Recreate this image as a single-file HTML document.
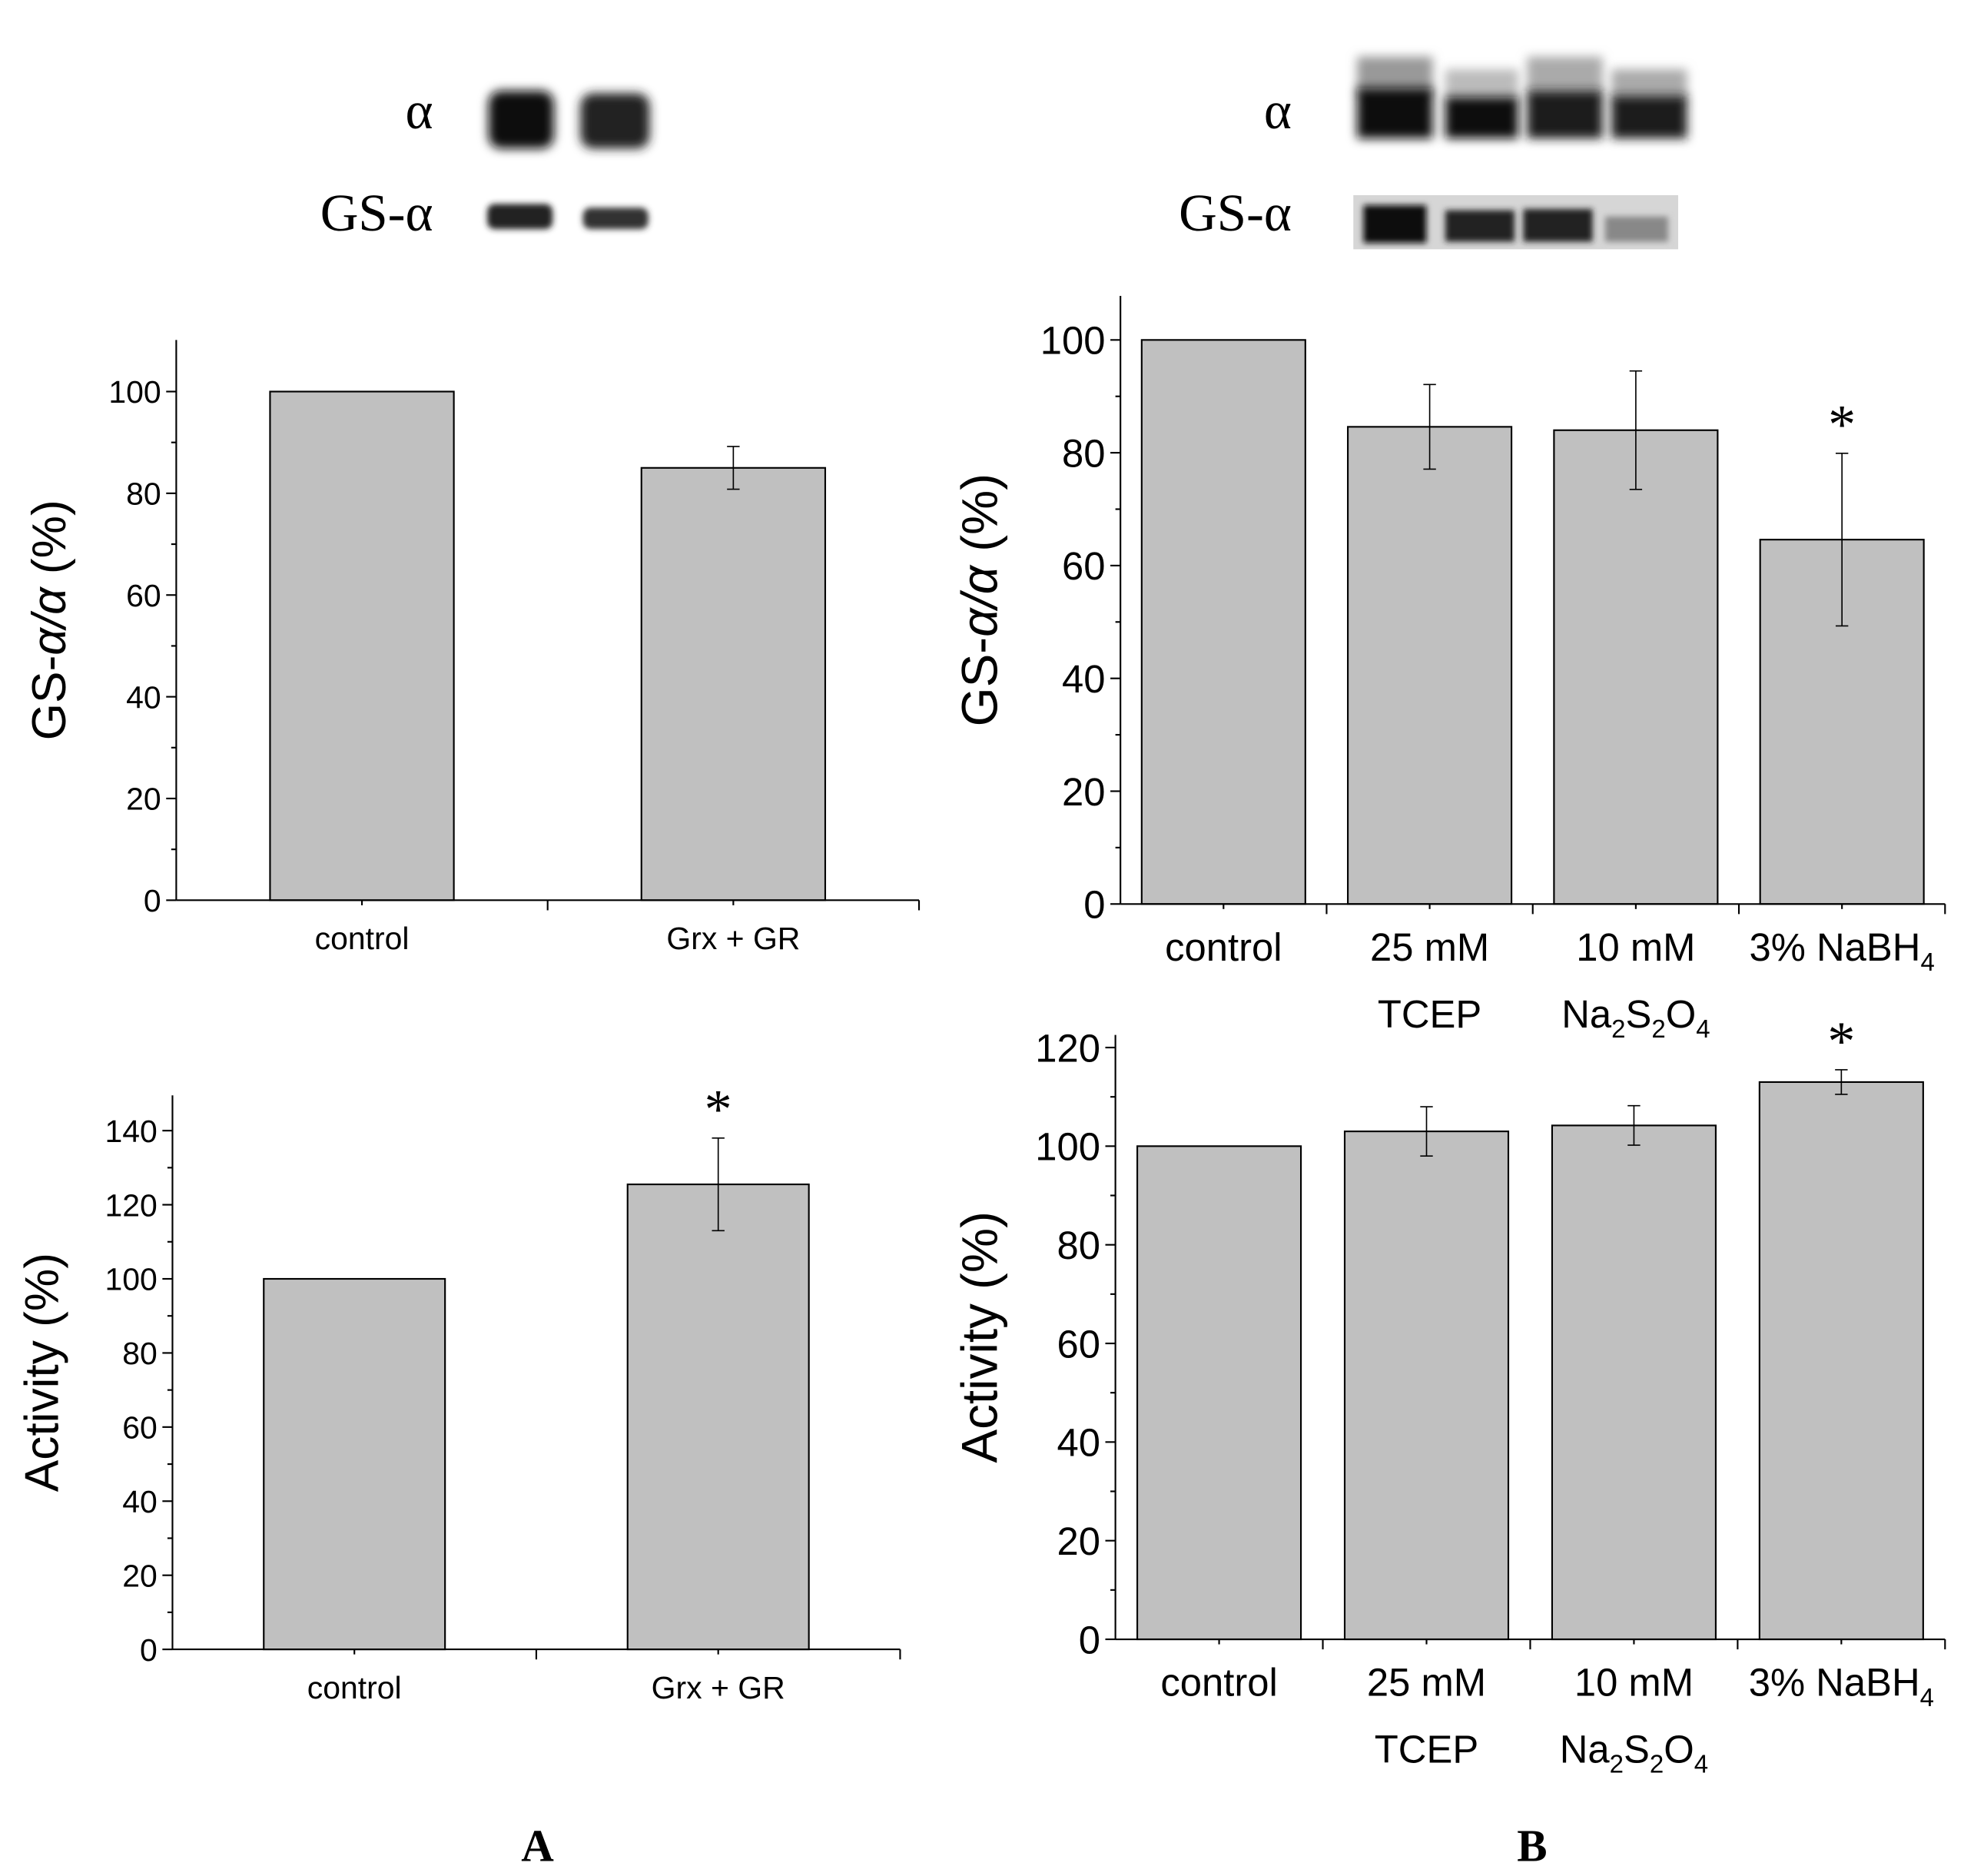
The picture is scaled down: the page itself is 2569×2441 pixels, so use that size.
<!DOCTYPE html>
<html><head><meta charset="utf-8"><style>
html,body{margin:0;padding:0;background:#fff;}
svg{display:block;}
text{font-family:"Liberation Sans",sans-serif;fill:#000;}
.serif{font-family:"Liberation Serif",serif;}
</style></head><body>
<svg id="fig" width="2569" height="2441" viewBox="0 0 1568 1490" preserveAspectRatio="none" xmlns="http://www.w3.org/2000/svg">
<defs>
<filter id="blur" x="-20%" y="-50%" width="140%" height="200%"><feGaussianBlur stdDeviation="4"/></filter>
<filter id="blur2" x="-20%" y="-50%" width="140%" height="200%"><feGaussianBlur stdDeviation="2.5"/></filter>
</defs>
<g>
<text x="344" y="102" class="serif" font-size="42" text-anchor="end">α</text>
<text x="344" y="183" class="serif" font-size="42" text-anchor="end">GS-α</text>
<rect x="388" y="72" width="52" height="46" rx="10" fill="#111" filter="url(#blur)"/>
<rect x="461" y="74" width="55" height="44" rx="10" fill="#222" filter="url(#blur)"/>
<rect x="387" y="162" width="52" height="20" rx="6" fill="#222" filter="url(#blur2)"/>
<rect x="463" y="165" width="52" height="17" rx="6" fill="#333" filter="url(#blur2)"/>
</g>
<g>
<text x="1026" y="102" class="serif" font-size="42" text-anchor="end">α</text>
<text x="1026" y="183" class="serif" font-size="42" text-anchor="end">GS-α</text>
<rect x="1078" y="45" width="60" height="30" fill="#999" filter="url(#blur)"/>
<rect x="1078" y="70" width="60" height="40" fill="#111" filter="url(#blur)"/>
<rect x="1148" y="55" width="58" height="25" fill="#bbb" filter="url(#blur)"/>
<rect x="1148" y="77" width="58" height="33" fill="#0a0a0a" filter="url(#blur)"/>
<rect x="1213" y="45" width="60" height="30" fill="#aaa" filter="url(#blur)"/>
<rect x="1213" y="72" width="60" height="38" fill="#1a1a1a" filter="url(#blur)"/>
<rect x="1280" y="55" width="60" height="25" fill="#aaa" filter="url(#blur)"/>
<rect x="1280" y="76" width="60" height="34" fill="#1a1a1a" filter="url(#blur)"/>
<rect x="1075" y="155" width="258" height="43" fill="#d6d6d6"/>
<rect x="1083" y="163" width="50" height="30" fill="#0a0a0a" filter="url(#blur2)"/>
<rect x="1148" y="167" width="55" height="25" fill="#222" filter="url(#blur2)"/>
<rect x="1210" y="166" width="55" height="26" fill="#222" filter="url(#blur2)"/>
<rect x="1275" y="172" width="50" height="20" fill="#888" filter="url(#blur2)"/>
</g>
<g id="charts"></g>
<text x="427" y="1478" class="serif" font-size="36" font-weight="bold" text-anchor="middle">A</text>
<text x="1217" y="1478" class="serif" font-size="36" font-weight="bold" text-anchor="middle">B</text>
</svg>
<script>
const catsA = ["control","Grx + GR"];
const gsA = [100, 85];
const gsAErr = [0, 4.2];
const actA = [100, 125.5];
const actAErr = [0, 12.5];
const catsB1 = ["control","25 mM","10 mM","3% NaBH"];
const catsB2 = ["","TCEP","Na2S2O4",""];
const gsB = [100, 84.6, 84, 64.6];
const gsBErr = [0, 7.5, 10.5, 15.3];
const actB = [100, 103, 104.2, 113];
const actBErr = [0, 5, 4, 2.5];
const ticksGsA = [0,20,40,60,80,100];
const ticksActA = [0,20,40,60,80,100,120,140];
const ticksGsB = [0,20,40,60,80,100];
const ticksActB = [0,20,40,60,80,100,120];

const NS="http://www.w3.org/2000/svg";
const root=document.getElementById('charts');
function mk(tag,attrs,parent,txt){const e=document.createElementNS(NS,tag);for(const k in attrs)e.setAttribute(k,attrs[k]);if(txt!==undefined)e.textContent=txt;(parent||root).appendChild(e);return e;}

function chart(o){
  const g=mk('g',{});
  
  
  const y=v=>o.y0-(v/o.ymax)*(o.y0-o.yTopVal);
  const n=o.vals.length, band=(o.xEnd-o.x0)/n;
  const xc=i=>o.x0+band*(i+0.5);
  o.vals.forEach((v,i)=>{
    const r=mk('rect',{x:xc(i)-o.bw/2,y:y(v),width:o.bw,height:o.y0-y(v),fill:'#c0c0c0',stroke:'#000','stroke-width':1.3},g);
    
    
    const e=o.err[i];
    if(e>0){
      const eb=mk('g',{stroke:'#000','stroke-width':1},g);
      
      
      mk('line',{x1:xc(i),x2:xc(i),y1:y(v+e),y2:y(v-e)},eb);
      mk('line',{x1:xc(i)-5,x2:xc(i)+5,y1:y(v+e),y2:y(v+e)},eb);
      mk('line',{x1:xc(i)-5,x2:xc(i)+5,y1:y(v-e),y2:y(v-e)},eb);
    }
  });
  const ax=mk('g',{stroke:'#000','stroke-width':1.3},g);
  
  
  mk('line',{x1:o.x0,x2:o.x0,y1:o.yAxisTop,y2:o.y0},ax);
  mk('line',{x1:o.x0,x2:o.xEnd,y1:o.y0,y2:o.y0},ax);
  const step=o.ticks[1]-o.ticks[0];
  o.ticks.forEach((t,i)=>{
    mk('line',{x1:o.x0-8,x2:o.x0,y1:y(t),y2:y(t)},ax);
    if(i<o.ticks.length-1) mk('line',{x1:o.x0-4,x2:o.x0,y1:y(t+step/2),y2:y(t+step/2)},ax);
    const tl=mk('text',{x:o.x0-12,y:y(t)+o.fs*0.36,'font-size':o.fs,'text-anchor':'end'},g,t);
    
    
  });
  for(let i=1;i<=n;i++) mk('line',{x1:o.x0+band*i,x2:o.x0+band*i,y1:o.y0,y2:o.y0+8},ax);
  for(let i=0;i<n;i++) mk('line',{x1:xc(i),x2:xc(i),y1:o.y0,y2:o.y0+4},ax);
  o.cats.forEach((c,i)=>{
    const t=mk('text',{x:xc(i),y:o.y0+o.fs+14,'font-size':o.fs,'text-anchor':'middle'},g);
    
    
    if(c==='3% NaBH'){t.textContent=c;mk('tspan',{'font-size':o.fs*0.65,dy:8},t,'4');}
    else t.textContent=c;
    if(o.cats2&&o.cats2[i]){
      const t2=mk('text',{x:xc(i),y:o.y0+o.fs*2+36,'font-size':o.fs,'text-anchor':'middle'},g);
      
      
      if(o.cats2[i]==='Na2S2O4'){
        t2.textContent='Na';mk('tspan',{'font-size':o.fs*0.65,dy:8},t2,'2');
        mk('tspan',{dy:-8},t2,'S');mk('tspan',{'font-size':o.fs*0.65,dy:8},t2,'2');
        mk('tspan',{dy:-8},t2,'O');mk('tspan',{'font-size':o.fs*0.65,dy:8},t2,'4');
      } else t2.textContent=o.cats2[i];
    }
  });
  const cy=(o.yAxisTop+o.y0)/2;
  const tt=mk('text',{x:o.titleX,y:cy,'font-size':o.tfs,'text-anchor':'middle',transform:`rotate(-90 ${o.titleX} ${cy})`},g);
  
  
  if(o.gs){tt.textContent='GS-';mk('tspan',{'font-style':'italic'},tt,'α/α');mk('tspan',{},tt,' (%)');}
  else tt.textContent='Activity (%)';
  if(o.star!==undefined){
    const i=o.star;
    const s=mk('text',{x:xc(i),y:y(o.vals[i]+o.err[i])-8,'font-size':44,'text-anchor':'middle',class:'serif'},g,'*');
    
    
  }
}
chart({name:'chart-a-gs',vals:gsA,err:gsAErr,cats:catsA,ticks:ticksGsA,x0:140,xEnd:730,y0:715,ymax:100,yTopVal:311,yAxisTop:270,bw:146,fs:25,tfs:38,titleX:52,gs:true});
chart({name:'chart-a-activity',vals:actA,err:actAErr,cats:catsA,ticks:ticksActA,x0:137,xEnd:715,y0:1310,ymax:140,yTopVal:898,yAxisTop:870,bw:144,fs:25,tfs:38,titleX:46,star:1});
chart({name:'chart-b-gs',vals:gsB,err:gsBErr,cats:catsB1,cats2:catsB2,ticks:ticksGsB,x0:890,xEnd:1545,y0:718,ymax:100,yTopVal:270,yAxisTop:235,bw:130,fs:31,tfs:40,titleX:792,gs:true,star:3});
chart({name:'chart-b-activity',vals:actB,err:actBErr,cats:catsB1,cats2:catsB2,ticks:ticksActB,x0:886,xEnd:1545,y0:1302,ymax:120,yTopVal:832,yAxisTop:822,bw:130,fs:31,tfs:40,titleX:792,star:3});
</script>
</body></html>
